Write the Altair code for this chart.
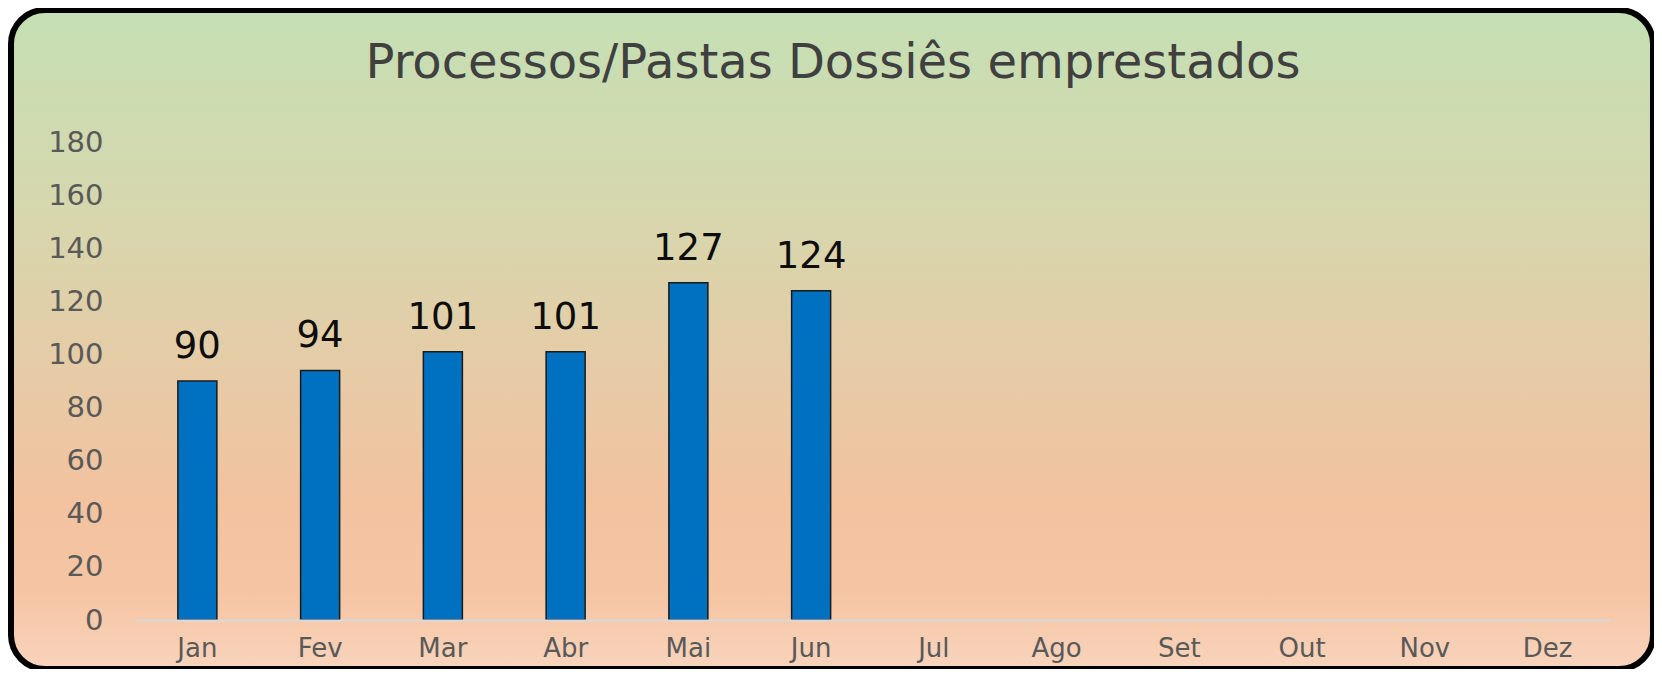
import altair as alt
import pandas as pd

months = ["Jan", "Fev", "Mar", "Abr", "Mai", "Jun", "Jul", "Ago", "Set", "Out", "Nov", "Dez"]
values = [90, 94, 101, 101, 127, 124, None, None, None, None, None, None]
title_text = "Processos/Pastas Dossiês emprestados"

df = pd.DataFrame({"mes": months, "valor": values})

FONT = "DejaVu Sans"
W, H = 1473, 478

x_enc = alt.X("mes:N", sort=months,
              scale=alt.Scale(domain=months, paddingInner=0, paddingOuter=0),
              axis=alt.Axis(title=None, labelAngle=0, ticks=False, domain=True,
                            domainColor="#D9D9D9", domainWidth=2, zindex=2,
                            labelFont=FONT, labelFontSize=26, labelColor="#595959",
                            labelPadding=15))
y_enc = alt.Y("valor:Q",
              scale=alt.Scale(domain=[0, 180], nice=False),
              axis=alt.Axis(title=None, values=list(range(0, 181, 20)), grid=False,
                            ticks=False, domain=False, zindex=2,
                            labelFont=FONT, labelFontSize=29, labelColor="#595959",
                            labelPadding=33))

bg = alt.Chart(pd.DataFrame({"a": [0]})).mark_rect(
    cornerRadius=34,
    stroke="#000000",
    strokeWidth=6,
    color=alt.Gradient(
        gradient="linear",
        stops=[
            alt.GradientStop(color="#C5DFB4", offset=0),
            alt.GradientStop(color="#D6D7AD", offset=0.3),
            alt.GradientStop(color="#E6CBA6", offset=0.55),
            alt.GradientStop(color="#F3C29F", offset=0.75),
            alt.GradientStop(color="#F5C4A2", offset=0.88),
            alt.GradientStop(color="#F8D4BC", offset=1),
        ],
        x1=0, x2=0, y1=0, y2=1,
    ),
).encode(
    x=alt.value(-125), x2=alt.value(1517),
    y=alt.value(-132), y2=alt.value(527),
)

title = alt.Chart(pd.DataFrame({"t": [title_text]})).mark_text(
    font=FONT, fontSize=48, color="#404040", baseline="middle", align="center"
).encode(text="t:N", x=alt.value(697), y=alt.value(-78))

bars = alt.Chart(df).mark_bar(
    size=39, color="#0070C0", stroke="#1A1A1A", strokeWidth=1.5
).encode(x=x_enc, y=y_enc)

labels = alt.Chart(df).mark_text(
    font=FONT, fontSize=37, color="#0D0D0D", baseline="alphabetic", dy=-23
).encode(x=x_enc, y=y_enc, text=alt.Text("valor:Q", format="d"))

chart = alt.layer(bg, title, bars, labels).properties(
    width=W, height=H,
    autosize=alt.AutoSizeParams(type="none"),
    padding={"left": 128, "top": 134, "right": 45, "bottom": 49},
).configure_view(stroke=None).configure(background="#FFFFFF")

chart.save("out.html", embed_options={"renderer": "svg", "actions": False})
